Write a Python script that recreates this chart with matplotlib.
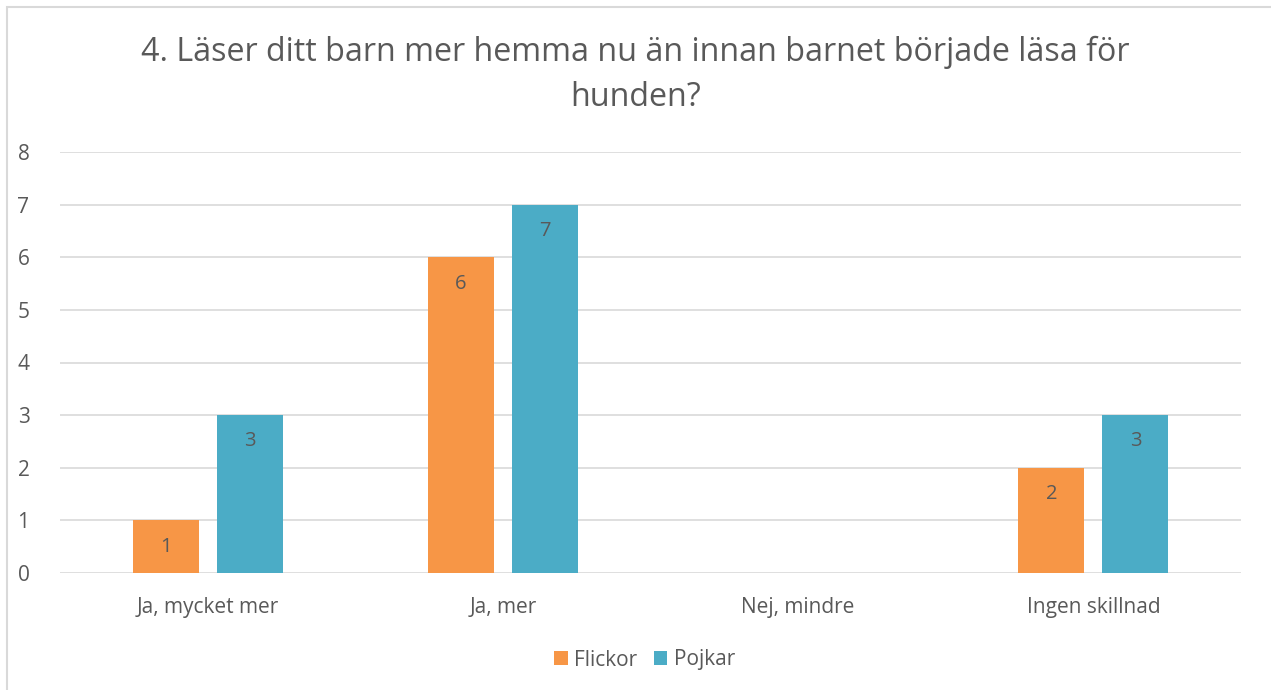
import matplotlib.pyplot as plt
import numpy as np
from matplotlib.patches import Rectangle

plt.rcParams['font.family'] = ['Open Sans', 'DejaVu Sans']

categories = ['Ja, mycket mer', 'Ja, mer', 'Nej, mindre', 'Ingen skillnad']
flickor = [1, 6, 0, 2]
pojkar = [3, 7, 0, 3]
series_names = ['Flickor', 'Pojkar']
colors = ['#F79646', '#4BACC6']
txt = '#595959'

fig = plt.figure(figsize=(12.71, 6.9), dpi=100)
ax = fig.add_axes([60 / 1271, 1 - 573 / 690, 1181 / 1271, 421 / 690])

# outer chart border
fig.patches.append(Rectangle((7 / 1271, -0.01), 1.02, 1 - 7 / 690 + 0.01,
                             transform=fig.transFigure, fill=False,
                             edgecolor='#D9D9D9', lw=1.5))

x = np.arange(len(categories))
w = 0.2235
off = 0.1425
for vals, off_i, c, name in [(flickor, -off, colors[0], series_names[0]),
                             (pojkar, off, colors[1], series_names[1])]:
    bars = ax.bar(x + off_i, vals, w, color=c, label=name, zorder=3)
    for b, v in zip(bars, vals):
        if v > 0:
            ax.text(b.get_x() + b.get_width() / 2, v - 0.5, str(v),
                    ha='center', va='center', fontsize=14.5, color=txt, zorder=4)

ax.set_xlim(-0.5, 3.5)
ax.set_ylim(0, 8)
ax.set_yticks(range(0, 9))
ax.grid(axis='y', color='#D9D9D9', lw=1.2, zorder=0)
ax.set_axisbelow(True)
for s in ax.spines.values():
    s.set_visible(False)
ax.tick_params(axis='both', length=0, labelsize=15, labelcolor=txt)
ax.tick_params(axis='y', pad=22)
ax.tick_params(axis='x', pad=17)
ax.set_xticks(x)
ax.set_xticklabels(categories)

fig.text(0.5, 1 - 52 / 690, '4. Läser ditt barn mer hemma nu än innan barnet började läsa för',
         ha='center', va='center', fontsize=23.2, color=txt)
fig.text(0.5, 1 - 97 / 690, 'hunden?',
         ha='center', va='center', fontsize=23.2, color=txt)

ax.legend(loc='center', bbox_to_anchor=(0.495, (573 - 660) / 421), ncol=2,
          frameon=False, fontsize=15, labelcolor=txt, handlelength=0.65,
          handleheight=0.65, handletextpad=0.3, columnspacing=0.8)

fig.savefig('out.png', dpi=100)
